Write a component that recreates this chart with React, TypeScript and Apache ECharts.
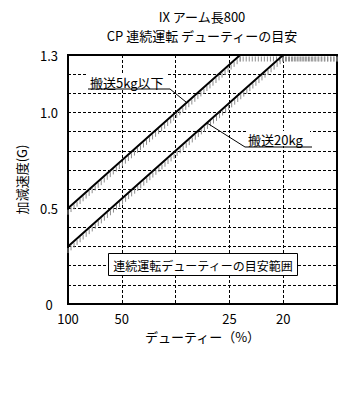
import React, { useEffect, useRef } from "react";
import * as echarts from "echarts";

const xLabels = ["100", "50", "", "25", "20", ""];
const yLabels = ["0", "0.5", "1.0", "1.3"];
const line5kg: number[][] = [[0, 0.5], [3.2, 1.3], [5, 1.3]];
const line20kg: number[][] = [[0, 0.3], [4, 1.3], [5, 1.3]];
const lines = [line5kg, line20kg];

const FONT = '"Noto Sans CJK JP", "Noto Sans", sans-serif';

export default function App() {
  const ref = useRef<HTMLDivElement>(null);
  useEffect(() => {
    const chart = echarts.init(ref.current!, null, { renderer: "svg" });
    const option: any = {
      animation: false,
      textStyle: { fontFamily: FONT },
      grid: { left: 68, top: 55, width: 269, height: 249, show: true, borderColor: "#000", borderWidth: 2, backgroundColor: "#fff" },
      xAxis: {
        type: "value", min: 0, max: 5, interval: 1,
        name: "デューティー（%）", nameLocation: "middle", nameGap: 26,
        nameTextStyle: { fontSize: 13, color: "#000", fontFamily: FONT },
        axisLine: { show: false }, axisTick: { show: false },
        axisLabel: { margin: 8, fontSize: 13, color: "#000", fontFamily: FONT, formatter: (v: number) => xLabels[Math.round(v)] ?? "" },
        splitLine: { show: true, lineStyle: { color: "#000", type: [3, 2], width: 1 } },
      },
      yAxis: {
        type: "value", min: 0, max: 1.3, interval: 0.1,
        name: "加減速度(G)", nameLocation: "middle", nameGap: 40, nameRotate: 90,
        nameTextStyle: { fontSize: 13, color: "#000", fontFamily: FONT },
        axisLine: { show: false }, axisTick: { show: false },
        axisLabel: {
          margin: 19, align: "center", fontSize: 13, color: "#000", fontFamily: FONT,
          formatter: (v: number) => {
            const s = v === 0 ? "0" : (Math.round(v * 10) / 10).toFixed(1);
            return yLabels.indexOf(s) >= 0 ? s : "";
          },
        },
        splitLine: { show: true, lineStyle: { color: "#000", type: [3, 2], width: 1 } },
      },
      series: [
        {
          type: "custom",
          data: lines.map((_, i) => [i]),
          renderItem: (params: any, api: any) => {
            const pts = lines[params.dataIndex].map((p) => api.coord(p));
            const children: any[] = [];
            for (let s = 0; s < pts.length - 1; s++) {
              const [x0, y0] = pts[s];
              const [x1, y1] = pts[s + 1];
              const n = Math.max(1, Math.floor((x1 - x0) / 3));
              for (let k = 0; k <= n; k++) {
                const t = k / n;
                const x = x0 + (x1 - x0) * t;
                const y = y0 + (y1 - y0) * t;
                children.push({ type: "line", shape: { x1: x, y1: y + 1.5, x2: x, y2: y + 6.5 }, style: { stroke: "#8c8c8c", lineWidth: 1 } });
              }
            }
            children.push({ type: "polyline", shape: { points: pts }, style: { stroke: "#000", lineWidth: 2, fill: "none" } });
            return { type: "group", children };
          },
          z: 3,
          silent: true,
        },
      ],
      graphic: [
        { type: "text", x: 202, y: 16.5, z: 10, style: { text: "IX アーム長800", textAlign: "center", textVerticalAlign: "middle", fontSize: 13, fill: "#000", fontFamily: FONT } },
        { type: "text", x: 202, y: 35.5, z: 10, style: { text: "CP 連続運転 デューティーの目安", textAlign: "center", textVerticalAlign: "middle", fontSize: 13, fill: "#000", fontFamily: FONT } },
        { type: "rect", z: 10, shape: { x: 88, y: 73, width: 80, height: 15 }, style: { fill: "#fff" } },
        { type: "text", x: 90, y: 82, z: 11, style: { text: "搬送5kg以下", textVerticalAlign: "middle", fontSize: 13, fill: "#000", fontFamily: FONT } },
        { type: "polyline", z: 11, shape: { points: [[88, 89], [170, 89], [186, 102]] }, style: { stroke: "#000", lineWidth: 1, fill: "none" } },
        { type: "rect", z: 10, shape: { x: 246, y: 131, width: 64, height: 15 }, style: { fill: "#fff" } },
        { type: "text", x: 248, y: 139, z: 11, style: { text: "搬送20kg", textVerticalAlign: "middle", fontSize: 13, fill: "#000", fontFamily: FONT } },
        { type: "polyline", z: 11, shape: { points: [[207, 123], [245, 147], [312, 147]] }, style: { stroke: "#000", lineWidth: 1, fill: "none" } },
        { type: "rect", z: 10, shape: { x: 108.5, y: 253.5, width: 189, height: 22 }, style: { fill: "#fff", stroke: "#000", lineWidth: 1 } },
        { type: "text", x: 203, y: 265, z: 11, style: { text: "連続運転デューティーの目安範囲", textAlign: "center", textVerticalAlign: "middle", fontSize: 12, fill: "#000", fontFamily: FONT } },
      ],
    };
    chart.setOption(option);
    return () => chart.dispose();
  }, []);
  return <div ref={ref} style={{ position: "absolute", left: 0, top: 0, width: 353, height: 410, background: "#fff" }} />;
}
